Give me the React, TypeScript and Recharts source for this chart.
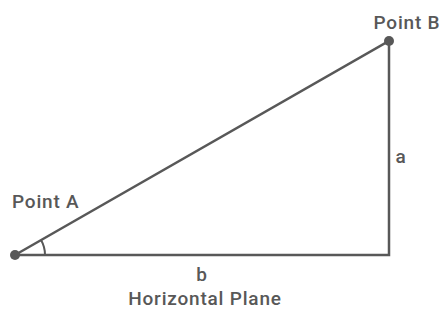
import React from "react";
import {
  ComposedChart,
  Line,
  Scatter,
  XAxis,
  YAxis,
  ReferenceDot,
} from "recharts";

// triangle vertices (horizontal run b, vertical rise a)
const pathX = [0, 10, 10, 0];
const pathY = [0, 0, 5.72, 0];
const vertexNames = ["Point A", "Point B"];
const vertexX = [0, 10];
const vertexY = [0, 5.72];
const sideNames = ["b", "a"];
const sideX = [5, 10];
const sideY = [0, 2.86];
const planeLabel = "Horizontal Plane";

const W = 446;
const H = 309;
const margin = { top: 41, right: 57, bottom: 54, left: 15 };
const plotW = W - margin.left - margin.right;
const plotH = H - margin.top - margin.bottom;

const INK = "#585858";
const textStyle = {
  fill: INK,
  fontSize: 19,
  fontWeight: 500,
  fontFamily: "Roboto, 'Open Sans', sans-serif",
  letterSpacing: 0.8,
};

const pathData = pathX.map((x, i) => ({ x, y: pathY[i] }));
const vertexData = vertexNames.map((name, i) => ({
  name,
  x: vertexX[i],
  y: vertexY[i],
}));

const VertexShape = (props: any) => {
  const { cx, cy, payload } = props;
  if (cx == null || cy == null) return null;
  const isA = payload.name === "Point A";
  let arc = null;
  if (isA) {
    // angle of hypotenuse in pixels
    const ang = Math.atan2(plotH, plotW);
    const r = 30;
    const x2 = cx + r * Math.cos(ang);
    const y2 = cy - r * Math.sin(ang);
    arc = (
      <path
        d={`M${cx + r},${cy} A${r},${r} 0 0 0 ${x2},${y2}`}
        fill="none"
        stroke={INK}
        strokeWidth={2}
      />
    );
  }
  return (
    <g>
      {arc}
      <circle cx={cx} cy={cy} r={5} fill={INK} />
      <text
        x={isA ? cx - 3 : cx + 18}
        y={isA ? cy - 47 : cy - 12}
        textAnchor={isA ? "start" : "middle"}
        style={textStyle}
      >
        {payload.name}
      </text>
    </g>
  );
};

export default function App() {
  return (
    <div style={{ position: "absolute", left: 0, top: 0, background: "#fff" }}>
      <ComposedChart width={W} height={H} margin={margin}>
        <XAxis type="number" dataKey="x" domain={[0, 10]} hide />
        <YAxis type="number" dataKey="y" domain={[0, 5.72]} hide />
        <Line
          data={pathData}
          dataKey="y"
          type="linear"
          stroke={INK}
          strokeWidth={2.5}
          dot={false}
          activeDot={false}
          isAnimationActive={false}
        />
        <Scatter
          data={vertexData}
          dataKey="y"
          shape={<VertexShape />}
          isAnimationActive={false}
        />
        <ReferenceDot
          x={sideX[0]}
          y={sideY[0]}
          r={0}
          stroke="none"
          label={(p: any) => {
            const { cx, cy } = p.viewBox ?? {};
            const x = cx ?? p.x;
            const y = cy ?? p.y;
            return (
              <g>
                <text x={x} y={y + 26} textAnchor="middle" style={textStyle}>
                  {sideNames[0]}
                </text>
                <text x={x + 3} y={y + 50} textAnchor="middle" style={textStyle}>
                  {planeLabel}
                </text>
              </g>
            );
          }}
        />
        <ReferenceDot
          x={sideX[1]}
          y={sideY[1]}
          r={0}
          stroke="none"
          label={(p: any) => {
            const { cx, cy } = p.viewBox ?? {};
            const x = cx ?? p.x;
            const y = cy ?? p.y;
            return (
              <text x={x + 12} y={y + 15} textAnchor="middle" style={textStyle}>
                {sideNames[1]}
              </text>
            );
          }}
        />
      </ComposedChart>
    </div>
  );
}
